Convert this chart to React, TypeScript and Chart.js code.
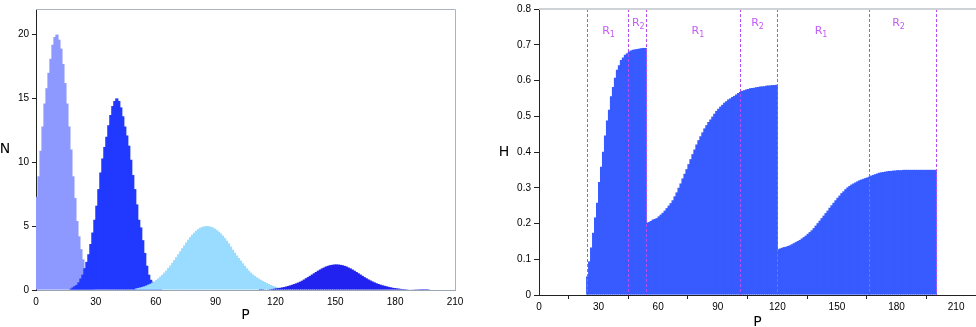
import React, { useEffect, useRef } from "react";
import { Chart, registerables } from "chart.js";

Chart.register(...registerables);

const FONT = "'DejaVu Sans', sans-serif";
const TICK_FONT = "'Liberation Sans', Arial, sans-serif";

// ---------- Left panel: N vs P ----------
const leftXTicks = [0, 30, 60, 90, 120, 150, 180, 210];
const leftYTicks = [0, 5, 10, 15, 20];

const s1Start = 0;
const s1Values = [7.3, 8.9, 10.9, 12.8, 14.6, 15.8, 17.0, 18.1, 19.2, 19.8, 20.0, 19.6, 18.9, 17.7, 16.2, 14.6, 12.8, 11.0, 8.9, 7.2, 5.4, 4.2, 3.2, 2.4, 1.7, 1.0, 0.5, 0.2, 0.1];

const s2Start = 17;
const s2Values = [0.1, 0.2, 0.3, 0.4, 0.6, 0.9, 1.2, 1.7, 2.2, 2.8, 3.6, 4.5, 5.5, 6.6, 7.9, 9.2, 10.3, 11.2, 12.0, 12.9, 13.7, 14.4, 14.8, 15.0, 14.8, 14.3, 13.6, 12.8, 12.1, 11.3, 10.2, 9.0, 7.9, 6.7, 5.5, 4.9, 3.9, 2.9, 1.9, 1.2, 0.8, 0.6, 0.4, 0.3, 0.2, 0.1];

const s3Start = 50;
const s3Values = [0.13, 0.16, 0.2, 0.24, 0.29, 0.35, 0.42, 0.49, 0.58, 0.68, 0.79, 0.91, 1.05, 1.19, 1.36, 1.53, 1.72, 1.91, 2.12, 2.34, 2.57, 2.8, 3.03, 3.27, 3.49, 3.72, 3.94, 4.14, 4.33, 4.49, 4.64, 4.77, 4.87, 4.94, 4.98, 5.0, 4.99, 4.95, 4.89, 4.8, 4.69, 4.56, 4.42, 4.25, 4.06, 3.86, 3.65, 3.4, 3.15, 2.92, 2.7, 2.5, 2.3, 2.09, 1.89, 1.7, 1.52, 1.36, 1.22, 1.1, 0.99, 0.89, 0.8, 0.71, 0.63, 0.55, 0.47, 0.4, 0.33, 0.27, 0.22, 0.17, 0.13, 0.1, 0.07, 0.05];

const s4Start = 112;
const s4Values = [0.01, 0.02, 0.03, 0.04, 0.05, 0.06, 0.08, 0.1, 0.12, 0.14, 0.17, 0.2, 0.23, 0.27, 0.31, 0.36, 0.41, 0.46, 0.52, 0.58, 0.65, 0.73, 0.82, 0.92, 1.01, 1.11, 1.21, 1.31, 1.41, 1.51, 1.6, 1.69, 1.76, 1.84, 1.89, 1.94, 1.97, 1.99, 2.0, 1.99, 1.97, 1.94, 1.89, 1.84, 1.76, 1.69, 1.6, 1.51, 1.41, 1.31, 1.21, 1.11, 1.01, 0.92, 0.83, 0.75, 0.67, 0.6, 0.53, 0.47, 0.42, 0.37, 0.33, 0.29, 0.25, 0.21, 0.18, 0.15, 0.13, 0.11, 0.09, 0.08, 0.07, 0.06, 0.05, 0.04, 0.03, 0.03, 0.02, 0.02, 0.01, 0.01, 0.01, 0.01, 0.01];

// ---------- Right panel: H vs P ----------
const rightXTicks = [0, 30, 60, 90, 120, 150, 180, 210];
const rightYTicks = [0, 0.1, 0.2, 0.3, 0.4, 0.5, 0.6, 0.7, 0.8];

const hStart = 24;
const hValues = [
  0.052, 0.094, 0.133, 0.174, 0.217, 0.258, 0.316, 0.359, 0.401, 0.446, 0.488, 0.518, 0.556, 0.582, 0.608, 0.63, 0.643, 0.657, 0.664, 0.672, 0.676,
  0.681, 0.684, 0.686, 0.687, 0.688, 0.689, 0.69, 0.691, 0.691,
  0.202, 0.204, 0.207, 0.211, 0.213, 0.215, 0.22, 0.225, 0.23, 0.236, 0.243, 0.25, 0.257, 0.265, 0.276, 0.287, 0.3, 0.312, 0.326, 0.339, 0.352, 0.366, 0.38, 0.394, 0.407, 0.421, 0.433, 0.444, 0.455, 0.466, 0.475, 0.484, 0.491, 0.499, 0.507, 0.515, 0.521, 0.527, 0.532, 0.538, 0.542, 0.547, 0.55, 0.554, 0.557, 0.561, 0.565,
  0.568, 0.571, 0.573, 0.575, 0.576, 0.578, 0.579, 0.58, 0.581, 0.582, 0.583, 0.583, 0.584, 0.585, 0.586, 0.586, 0.587, 0.587, 0.588,
  0.128, 0.13, 0.132, 0.134, 0.135, 0.137, 0.139, 0.142, 0.145, 0.148, 0.151, 0.154, 0.158, 0.162, 0.166, 0.171, 0.176, 0.181, 0.187, 0.194, 0.201, 0.208, 0.215, 0.222, 0.229, 0.236, 0.244, 0.251, 0.258, 0.265, 0.272, 0.278, 0.285, 0.29, 0.296, 0.301, 0.305, 0.309, 0.312, 0.315, 0.318, 0.321, 0.323, 0.325, 0.327, 0.329,
  0.331, 0.334, 0.336, 0.338, 0.34, 0.342, 0.343, 0.344, 0.345, 0.346, 0.347, 0.347, 0.348, 0.348, 0.349, 0.349, 0.349, 0.35, 0.35, 0.35, 0.35, 0.35, 0.35, 0.35, 0.35, 0.35, 0.35, 0.35, 0.35, 0.35, 0.35, 0.35, 0.35, 0.35,
];

const regionBounds = [24, 45, 54, 101, 120, 166, 200];
const regionSubs = ["1", "2", "1", "2", "1", "2"];
const regionLabelP = [35, 50, 80, 110, 142, 181];
const regionLabelH = [0.738, 0.761, 0.738, 0.761, 0.738, 0.761];

function toPoints(start: number, values: number[]) {
  return values.map((v, i) => ({ x: start + i + 0.5, y: v }));
}

function fixedTicks(list: number[]) {
  return (s: any) => {
    s.ticks = list.map((v) => ({ value: v }));
  };
}

const tickFont = { family: TICK_FONT, size: 10 };

const leftDecor = {
  id: "leftDecor",
  afterDraw(chart: any) {
    const { ctx, chartArea } = chart;
    ctx.save();
    ctx.strokeStyle = "#a9b4bf";
    ctx.lineWidth = 1;
    ctx.beginPath();
    ctx.moveTo(chartArea.left, chartArea.top + 0.5);
    ctx.lineTo(chartArea.right + 0.5, chartArea.top + 0.5);
    ctx.lineTo(chartArea.right + 0.5, chartArea.bottom);
    ctx.stroke();
    ctx.fillStyle = "#000";
    ctx.font = `14px ${FONT}`;
    ctx.textAlign = "center";
    ctx.textBaseline = "middle";
    ctx.fillText("N", 5, (chartArea.top + chartArea.bottom) / 2);
    ctx.fillText("P", (chartArea.left + chartArea.right) / 2, chartArea.bottom + 25);
    ctx.restore();
  },
};

const rightDecor = {
  id: "rightDecor",
  afterDatasetsDraw(chart: any) {
    const { ctx, chartArea, scales } = chart;
    const x = scales.x;
    const y = scales.y;
    ctx.save();
    ctx.strokeStyle = "#b24ef2";
    ctx.lineWidth = 1;
    ctx.setLineDash([3, 2]);
    regionBounds.forEach((b) => {
      const px = Math.round(x.getPixelForValue(b)) + 0.5;
      ctx.beginPath();
      ctx.moveTo(px, chartArea.top);
      ctx.lineTo(px, chartArea.bottom);
      ctx.stroke();
    });
    ctx.setLineDash([]);
    ctx.fillStyle = "#c45cf5";
    ctx.textBaseline = "middle";
    ctx.textAlign = "left";
    regionSubs.forEach((sub, i) => {
      const cx = x.getPixelForValue(regionLabelP[i]);
      const cy = y.getPixelForValue(regionLabelH[i]);
      ctx.font = `11px ${FONT}`;
      const w1 = ctx.measureText("R").width;
      ctx.font = `8px ${FONT}`;
      const w2 = ctx.measureText(sub).width;
      const sx = cx - (w1 + w2) / 2;
      ctx.font = `11px ${FONT}`;
      ctx.fillText("R", sx, cy);
      ctx.font = `8px ${FONT}`;
      ctx.fillText(sub, sx + w1, cy + 4);
    });
    ctx.restore();
  },
  afterDraw(chart: any) {
    const { ctx, chartArea } = chart;
    ctx.save();
    ctx.fillStyle = "#cdd2d7";
    ctx.fillRect(chartArea.left, chartArea.top - 1, chartArea.right - chartArea.left, 2);
    ctx.fillStyle = "#000";
    ctx.font = `14px ${FONT}`;
    ctx.textAlign = "center";
    ctx.textBaseline = "middle";
    ctx.fillText("H", 24, (chartArea.top + chartArea.bottom) / 2);
    ctx.fillText("P", (chartArea.left + chartArea.right) / 2, chartArea.bottom + 27);
    ctx.restore();
  },
};

const barDefaults = { grouped: false, barPercentage: 1.6, categoryPercentage: 1, borderWidth: 0 };

function LeftChart() {
  const ref = useRef<HTMLCanvasElement | null>(null);
  useEffect(() => {
    if (!ref.current) return;
    const chart = new Chart(ref.current, {
      type: "bar",
      data: {
        datasets: [
          { data: toPoints(s1Start, s1Values) as any, backgroundColor: "#8e99ff", order: 4 },
          { data: toPoints(s2Start, s2Values) as any, backgroundColor: "#2138ff", order: 3 },
          { data: toPoints(s3Start, s3Values) as any, backgroundColor: "#99dcff", order: 2 },
          { data: toPoints(s4Start, s4Values) as any, backgroundColor: "#2222f0", order: 1 },
        ],
      },
      options: {
        animation: false,
        responsive: true,
        maintainAspectRatio: false,
        devicePixelRatio: 1,
        layout: { padding: { left: 0, right: 17, top: 3, bottom: 0 } },
        plugins: { legend: { display: false }, tooltip: { enabled: false } },
        datasets: { bar: barDefaults } as any,
        scales: {
          x: {
            type: "linear",
            min: 0,
            max: 210,
            offset: false,
            afterBuildTicks: fixedTicks(leftXTicks),
            afterFit: (s: any) => {
              s.height = 37;
            },
            grid: { display: true, drawOnChartArea: false, drawTicks: false },
            border: { display: true, color: "#9aa6b2", width: 1 },
            ticks: { font: tickFont, color: "#000", padding: 6, maxRotation: 0, autoSkip: false, callback: (v: any) => String(v) },
          },
          y: {
            type: "linear",
            min: 0,
            max: 22,
            afterBuildTicks: fixedTicks(leftYTicks),
            afterFit: (s: any) => {
              s.width = 36;
            },
            grid: { display: true, drawOnChartArea: false, drawTicks: true, tickLength: 4, color: "#222" },
            border: { display: true, color: "#222", width: 1 },
            ticks: { font: tickFont, color: "#000", padding: 3, autoSkip: false, callback: (v: any) => String(v) },
          },
        },
      },
      plugins: [leftDecor],
    });
    return () => chart.destroy();
  }, []);
  return (
    <div style={{ position: "absolute", left: 0, top: 0, width: 472, height: 327 }}>
      <canvas ref={ref} />
    </div>
  );
}

function RightChart() {
  const ref = useRef<HTMLCanvasElement | null>(null);
  useEffect(() => {
    if (!ref.current) return;
    const chart = new Chart(ref.current, {
      type: "bar",
      data: {
        datasets: [{ data: toPoints(hStart, hValues) as any, backgroundColor: "#375bff" }],
      },
      options: {
        animation: false,
        responsive: true,
        maintainAspectRatio: false,
        devicePixelRatio: 1,
        layout: { padding: { left: 0, right: 0, top: 4, bottom: 0 } },
        plugins: { legend: { display: false }, tooltip: { enabled: false } },
        datasets: { bar: barDefaults } as any,
        scales: {
          x: {
            type: "linear",
            min: 0,
            max: 220,
            offset: false,
            afterBuildTicks: fixedTicks(rightXTicks),
            afterFit: (s: any) => {
              s.height = 32;
            },
            grid: { display: true, drawOnChartArea: false, drawTicks: true, tickLength: 4, color: "#222" },
            border: { display: true, color: "#222", width: 1 },
            ticks: { font: tickFont, color: "#000", padding: 2, maxRotation: 0, autoSkip: false, callback: (v: any) => String(v) },
          },
          y: {
            type: "linear",
            min: 0,
            max: 0.8,
            afterBuildTicks: fixedTicks(rightYTicks),
            afterFit: (s: any) => {
              s.width = 59;
            },
            grid: { display: true, drawOnChartArea: false, drawTicks: true, tickLength: 5, color: "#222" },
            border: { display: true, color: "#222", width: 1 },
            ticks: { font: tickFont, color: "#000", padding: 3, autoSkip: false, callback: (v: any) => String(v) },
          },
        },
      },
      plugins: [rightDecor],
    });
    return () => chart.destroy();
  }, []);
  return (
    <div style={{ position: "absolute", left: 480, top: 0, width: 496, height: 327 }}>
      <canvas ref={ref} />
    </div>
  );
}

export default function App() {
  return (
    <div style={{ position: "absolute", left: 0, top: 0, width: 976, height: 327, background: "#fff" }}>
      <LeftChart />
      <RightChart />
    </div>
  );
}
